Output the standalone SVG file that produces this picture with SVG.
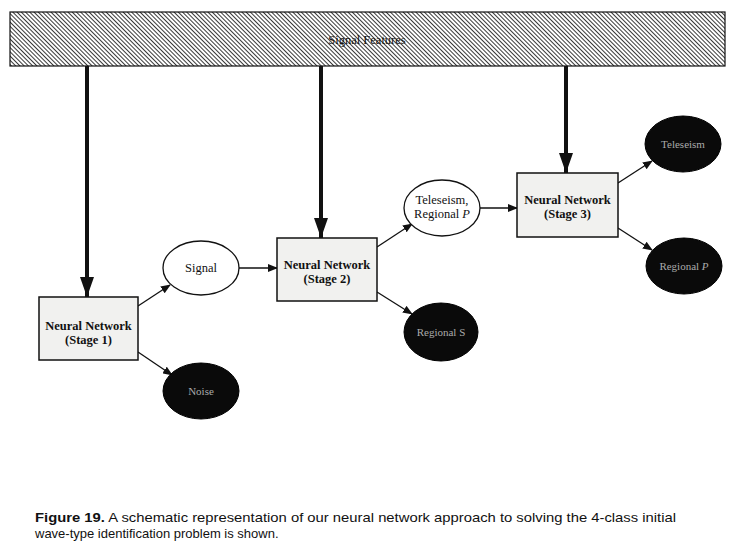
<svg xmlns="http://www.w3.org/2000/svg" width="743" height="552" viewBox="0 0 743 552">
<style>
.box{fill:#f1f1ef;stroke:#111;stroke-width:1.5}
.ell{fill:#fff;stroke:#111;stroke-width:1.3}
.dark{fill:#0a0a0a;stroke:#000;stroke-width:1}
.t{font-family:"Liberation Serif",serif;font-size:12.5px;fill:#111;text-anchor:middle}
.tb{font-family:"Liberation Serif",serif;font-size:12.5px;font-weight:bold;fill:#111;text-anchor:middle}
.tw{font-family:"Liberation Serif",serif;font-size:11px;fill:#aaa;text-anchor:middle}
.thin{stroke:#111;stroke-width:1.3;fill:none;marker-end:url(#ah)}
.thick{stroke:#111;stroke-width:4;fill:none;marker-end:url(#ahb)}
.cap{font-family:"Liberation Sans",Arial,sans-serif;font-size:13px;fill:#111}
</style>
<defs>
<pattern id="hatch" width="3" height="3" patternUnits="userSpaceOnUse" patternTransform="rotate(-45)">
<rect width="3" height="3" fill="#fff"/>
<line x1="0" y1="0" x2="0" y2="3" stroke="#222" stroke-width="1.8"/>
</pattern>
<marker id="ah" markerWidth="10" markerHeight="8" refX="9" refY="4" orient="auto" markerUnits="userSpaceOnUse">
<path d="M0,0 L10,4 L0,8 z" fill="#111"/>
</marker>
<marker id="ahb" markerWidth="20" markerHeight="14" refX="20" refY="7" orient="auto" markerUnits="userSpaceOnUse" viewBox="0 0 20 14">
<path d="M0,0 L20,7 L0,14 z" fill="#111"/>
</marker>
</defs>

<g id="signal-features">
<rect x="10" y="12" width="715" height="54" fill="url(#hatch)" stroke="#111" stroke-width="1.2"/>
<text class="t" x="367" y="44" font-size="12">Signal Features</text>
</g>

<g id="connectors">
<line class="thick" x1="87" y1="66" x2="87" y2="297"/>
<line class="thick" x1="321" y1="66" x2="321" y2="238"/>
<line class="thick" x1="566" y1="66" x2="566" y2="173"/>
<line class="thin" x1="138" y1="306" x2="170" y2="285"/>
<line class="thin" x1="138" y1="352" x2="172" y2="375"/>
<line class="thin" x1="239" y1="268" x2="277" y2="268"/>
<line class="thin" x1="377" y1="247" x2="412" y2="224"/>
<line class="thin" x1="377" y1="292" x2="412" y2="314"/>
<line class="thin" x1="480" y1="208" x2="517" y2="208"/>
<line class="thin" x1="618" y1="183" x2="652" y2="161"/>
<line class="thin" x1="618" y1="228" x2="652" y2="250"/>
</g>

<g id="stage1">
<rect class="box" x="39" y="297" width="99" height="63"/>
<text class="tb" x="88.5" y="330">Neural Network</text>
<text class="tb" x="88.5" y="344">(Stage 1)</text>
</g>

<g id="signal">
<ellipse class="ell" cx="201" cy="268" rx="38" ry="27"/>
<text class="t" x="201" y="272">Signal</text>
</g>

<g id="noise">
<ellipse class="dark" cx="201" cy="391" rx="38" ry="28"/>
<text class="tw" x="201" y="395">Noise</text>
</g>

<g id="stage2">
<rect class="box" x="277" y="238" width="100" height="63"/>
<text class="tb" x="327" y="269">Neural Network</text>
<text class="tb" x="327" y="283">(Stage 2)</text>
</g>

<g id="teleseism-regional-p">
<ellipse class="ell" cx="442" cy="208" rx="38" ry="28"/>
<text class="t" x="442" y="204">Teleseism,</text>
<text class="t" x="442" y="218">Regional <tspan font-style="italic">P</tspan></text>
</g>

<g id="regional-s">
<ellipse class="dark" cx="441" cy="332" rx="37" ry="29"/>
<text class="tw" x="441" y="336">Regional S</text>
</g>

<g id="stage3">
<rect class="box" x="517" y="173" width="101" height="64"/>
<text class="tb" x="567.5" y="204">Neural Network</text>
<text class="tb" x="567.5" y="218">(Stage 3)</text>
</g>

<g id="teleseism">
<ellipse class="dark" cx="683" cy="144" rx="38" ry="28"/>
<text class="tw" x="683" y="148">Teleseism</text>
</g>

<g id="regional-p">
<ellipse class="dark" cx="684" cy="266" rx="38" ry="28"/>
<text class="tw" x="684" y="270">Regional <tspan font-style="italic">P</tspan></text>
</g>

<g id="caption">
<text class="cap" x="35" y="522" textLength="641" lengthAdjust="spacingAndGlyphs"><tspan font-weight="bold">Figure 19.</tspan> A schematic representation of our neural network approach to solving the 4-class initial</text>
<text class="cap" x="35" y="538">wave-type identification problem is shown.</text>
</g>
</svg>
